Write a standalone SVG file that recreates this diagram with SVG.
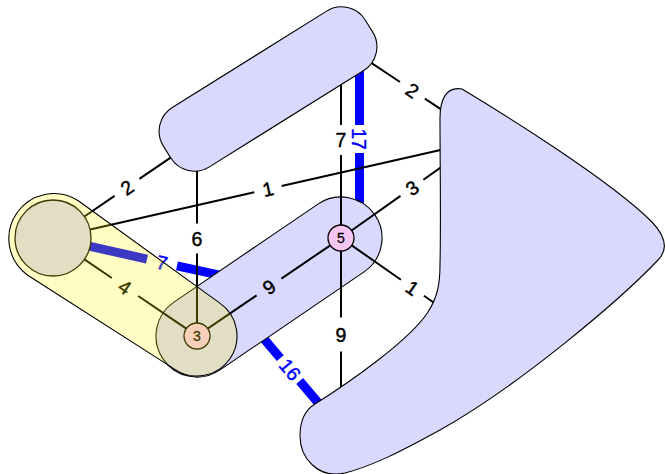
<svg xmlns="http://www.w3.org/2000/svg" width="665" height="474" viewBox="0 0 665 474">
<style>
.blob{fill:#d9d9ff;stroke:#000;stroke-width:1.1}
.e{stroke:#000;stroke-width:2;fill:none}
.b{stroke:#0000ff;stroke-width:9;fill:none}
.lbl{font-family:"Liberation Sans",Arial,sans-serif;font-size:19.5px;text-anchor:middle;fill:#000;stroke:#000;stroke-width:0.45}
.blbl{fill:#0000ff;stroke:#0000ff}
.node{stroke:#000;stroke-width:1.3}
.nt{font-family:"Liberation Sans",Arial,sans-serif;font-size:14px;text-anchor:middle;fill:#000;stroke:#000;stroke-width:0.3}
</style>
<rect width="665" height="474" fill="#fff"/>
<g id="heavy-connectors">
<path class="b" d="M90.1,246.3 L147,259.1 M177,265.9 L222,275.6"/>
<path class="b" d="M359.5,58 L359.5,125 M359.5,153 L359.5,215"/>
<path class="b" d="M259,333 L280.3,358.1 M299.7,381 L326.4,412.5"/>
</g>
<g id="middle-group">
<rect class="blob" transform="translate(269,287) rotate(-34.24)" x="-128.1" y="-41" width="256.2" height="82" rx="41"/>
</g>
<g id="connectors">
<path class="e" d="M84.4,216.5 L114.6,195.9 M139.4,178.9 L179.4,151.6"/>
<path class="e" d="M90.1,229.6 L254.3,192.2 M281.6,186 L446,148.7"/>
<path class="e" d="M84.4,259.4 L111.8,278 M138.2,296 L186.3,328.7"/>
<path class="e" d="M197,323 L197,253.5 M197,223.5 L197,160"/>
<path class="e" d="M207.7,328.7 L256.6,295.4 M281.4,278.6 L330.3,245.3"/>
<path class="e" d="M341,225 L341,155 M341,125 L341,72"/>
<path class="e" d="M351.6,230.5 L400.5,195.9 M423.4,179.7 L447.2,162.9"/>
<path class="e" d="M351.7,245.4 L400.9,279.7 M423.9,295.7 L443.6,309.4"/>
<path class="e" d="M341,251 L341,317.5 M341,351.5 L341,395"/>
<path class="e" d="M360,55.3 L400,82 M424.9,98.6 L452,116.7"/>
</g>
<g id="top-group">
<rect class="blob" transform="translate(268,89) rotate(-32)" x="-119" y="-35" width="238" height="70" rx="28"/>
</g>
<g id="right-group">
<path class="blob" d="M440,118 C440,100 446,86 462,89 C502,113 610,180 652,222 C667,238 668,250 658,260 C620,300 520,385 440,430 C400,452 372,466 345,473 C318,479 300,458 300,436 C300,420 305,410 315,404 C350,382 410,340 428,312 C437,298 440,285 440,265 C441,220 440,160 440,118 Z"/>
</g>
<g id="big-node">
<circle class="node" cx="53" cy="238" r="38" fill="#d9d9ff"/>
</g>
<g id="node-3">
<circle class="node" cx="197" cy="336" r="13" fill="#f6c6f3"/>
<text class="nt" x="197" y="336" dy="0.36em">3</text>
</g>
<g id="node-5">
<circle class="node" cx="341" cy="238" r="13" fill="#f6c6f3"/>
<text class="nt" x="341" y="238" dy="0.36em">5</text>
</g>
<g id="labels">
<text class="lbl" transform="translate(127,187.4) rotate(-34.4)" dy="0.36em">2</text>
<text class="lbl" transform="translate(268,189) rotate(-12.8)" dy="0.36em">1</text>
<text class="lbl" transform="translate(125,287) rotate(34.2)" dy="0.36em">4</text>
<text class="lbl" x="197" y="238.5" dy="0.36em">6</text>
<text class="lbl" transform="translate(269,287) rotate(-34.2)" dy="0.36em">9</text>
<text class="lbl" x="341" y="140" dy="0.36em">7</text>
<text class="lbl" transform="translate(412,187.8) rotate(-35.3)" dy="0.36em">3</text>
<text class="lbl" transform="translate(412.4,287.7) rotate(34.8)" dy="0.36em">1</text>
<text class="lbl" x="341" y="334.5" dy="0.36em">9</text>
<text class="lbl" transform="translate(412.5,90.3) rotate(33.7)" dy="0.36em">2</text>
<text class="lbl blbl" transform="translate(162,262.5) rotate(12.7)" dy="0.36em">7</text>
<text class="lbl blbl" transform="translate(359.5,139) rotate(90)" dy="0.36em">17</text>
<text class="lbl blbl" transform="translate(290,369.5) rotate(49.8)" dy="0.36em">16</text>
</g>
<g id="yellow-group">
<path d="M78.3,200.8 L219.5,302.9 A40,40 0 0 1 174.5,369.1 L27.7,275.2 A45,45 0 0 1 78.3,200.8 Z" fill="#fff000" fill-opacity="0.23" stroke="#000" stroke-width="1.1"/>
</g>
</svg>
